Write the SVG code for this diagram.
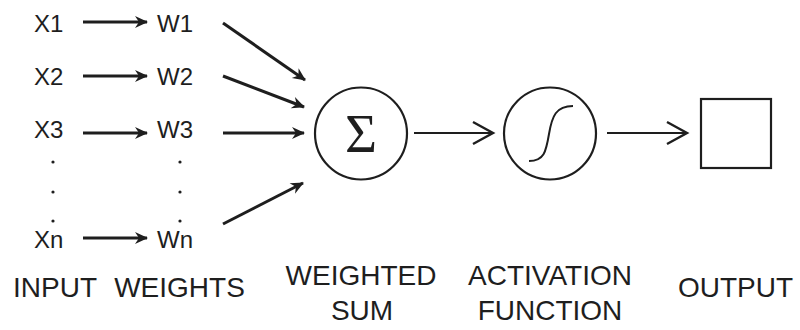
<svg xmlns="http://www.w3.org/2000/svg" width="800" height="330" viewBox="0 0 800 330">
  <defs>
    <style>
      .lbl { font-family: "Liberation Sans", Arial, sans-serif; fill: #1e1e1e; }
      .var { font-size: 24px; }
      .cap { font-size: 28px; text-anchor: middle; }
      .thick { stroke: #1e1e1e; stroke-width: 3; fill: none; }
      .thin { stroke: #1e1e1e; stroke-width: 2; fill: none; }
      .shape { stroke: #1e1e1e; stroke-width: 2.2; fill: #fff; }
      .dot { fill: #1e1e1e; }
    </style>
    <marker id="barb" markerUnits="userSpaceOnUse" viewBox="-14 -7 16 14" refX="0" refY="0" markerWidth="16" markerHeight="14" orient="auto">
      <path d="M1,0 L-12,-6 L-8,0 L-12,6 Z" fill="#1e1e1e"/>
    </marker>
    <marker id="chev" markerUnits="userSpaceOnUse" viewBox="-24 -14 28 28" refX="0" refY="0" markerWidth="28" markerHeight="28" orient="auto">
      <path d="M-20,-11 L0,0 L-20,11" fill="none" stroke="#1e1e1e" stroke-width="2.4" stroke-linejoin="miter"/>
    </marker>
  </defs>

  <rect width="800" height="330" fill="#fff"/>

  <!-- inputs -->
  <g id="inputs" class="lbl var">
    <text x="34" y="32">X1</text>
    <text x="34" y="85">X2</text>
    <text x="34" y="138">X3</text>
    <text x="34" y="248">Xn</text>
  </g>
  <g id="input-dots">
    <circle class="dot" cx="53" cy="162" r="1.6"/>
    <circle class="dot" cx="53" cy="192" r="1.6"/>
    <circle class="dot" cx="53" cy="221" r="1.6"/>
  </g>

  <!-- weights -->
  <g id="weights" class="lbl var">
    <text x="157" y="32">W1</text>
    <text x="157" y="85">W2</text>
    <text x="157" y="138">W3</text>
    <text x="157" y="248">Wn</text>
  </g>
  <g id="weight-dots">
    <circle class="dot" cx="180" cy="162" r="1.6"/>
    <circle class="dot" cx="180" cy="192" r="1.6"/>
    <circle class="dot" cx="180" cy="221" r="1.6"/>
  </g>

  <!-- summation node -->
  <g id="sum">
    <circle class="shape" cx="361" cy="133.5" r="46"/>
    <text x="361" y="152" text-anchor="middle" font-family="'Liberation Serif', 'Times New Roman', serif" font-size="55" fill="#1e1e1e">Σ</text>
  </g>

  <!-- activation node -->
  <g id="activation">
    <circle class="shape" cx="550" cy="133.5" r="46"/>
    <path class="thin" d="M529,161 C544,161 546,152 549,134 C552,116 556,106 573,106"/>
  </g>

  <!-- output node -->
  <g id="output">
    <rect class="shape" x="701" y="99" width="70" height="69"/>
  </g>

  <!-- connectors -->
  <g id="connectors">
    <line class="thick" x1="83" y1="22" x2="147" y2="22" marker-end="url(#barb)"/>
    <line class="thick" x1="83" y1="76" x2="147" y2="76" marker-end="url(#barb)"/>
    <line class="thick" x1="83" y1="133" x2="147" y2="133" marker-end="url(#barb)"/>
    <line class="thick" x1="83" y1="238" x2="147" y2="238" marker-end="url(#barb)"/>

    <line class="thick" x1="223" y1="23" x2="305" y2="80" marker-end="url(#barb)"/>
    <line class="thick" x1="223" y1="76" x2="304" y2="107" marker-end="url(#barb)"/>
    <line class="thick" x1="223" y1="133" x2="304" y2="133" marker-end="url(#barb)"/>
    <line class="thick" x1="223" y1="224" x2="303" y2="183" marker-end="url(#barb)"/>

    <line class="thin" x1="414" y1="133" x2="493" y2="133" marker-end="url(#chev)"/>
    <line class="thin" x1="607" y1="133" x2="687" y2="133" marker-end="url(#chev)"/>
  </g>

  <!-- captions -->
  <g id="captions" class="lbl cap">
    <text x="55" y="297">INPUT</text>
    <text x="179.5" y="297">WEIGHTS</text>
    <text x="361" y="285">WEIGHTED</text>
    <text x="362" y="320">SUM</text>
    <text x="550" y="285">ACTIVATION</text>
    <text x="550" y="320">FUNCTION</text>
    <text x="735.5" y="297">OUTPUT</text>
  </g>
</svg>
